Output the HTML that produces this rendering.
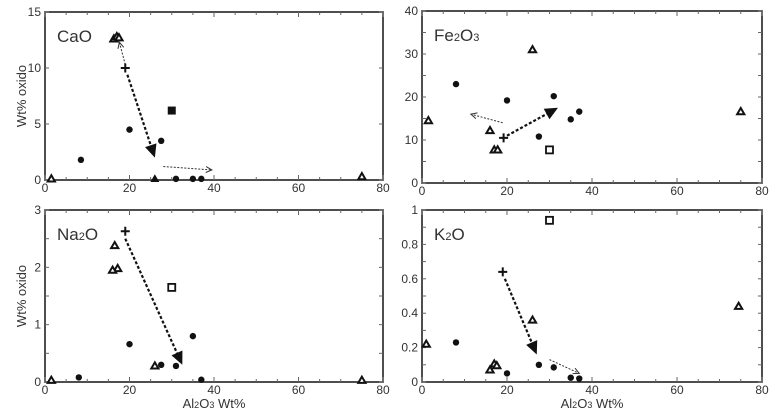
<!DOCTYPE html>
<html><head><meta charset="utf-8"><style>
body{margin:0;background:#fff;width:777px;height:413px;overflow:hidden;font-family:"Liberation Sans",sans-serif}
svg text{font-family:"Liberation Sans",sans-serif;fill:#333}
</style></head><body>
<svg id="c" width="777" height="413"></svg>
<script>
const xTicks=[0,20,40,60,80];
// CaO
const caoCircles=[[8.5,1.8],[20,4.5],[27.5,3.5],[31,0.1],[35,0.1],[37,0.1]];
const caoOpenTri=[[1.5,0.1],[16.3,12.6],[17,12.8],[17.5,12.7],[75,0.3]];
const caoFilledTri=[[26,0.1]];
const caoSquare=[[30,6.2]];
const caoPlus=[[19,10]];
// Fe2O3
const feCircles=[[8,23],[20,19.2],[31,20.2],[27.5,10.8],[35,14.8],[37,16.6]];
const feOpenTri=[[1.5,14.5],[16,12.2],[17,7.7],[17.8,7.7],[26,31],[75,16.6]];
const feSquare=[[30,7.7]];
const fePlus=[[19.2,10.5]];
// Na2O
const naCircles=[[8,0.08],[20,0.66],[27.5,0.3],[31,0.28],[35,0.8],[37,0.04]];
const naOpenTri=[[1.5,0.03],[16.5,2.38],[17.2,1.98],[16,1.95],[26,0.28],[75,0.03]];
const naSquare=[[30,1.65]];
const naPlus=[[19,2.63]];
// K2O
const kCircles=[[8,0.23],[20,0.05],[27.5,0.1],[31,0.085],[35,0.025],[37,0.02]];
const kOpenTri=[[1,0.22],[16,0.07],[17,0.105],[17.6,0.095],[26,0.36],[74.5,0.44]];
const kSquare=[[30,0.94]];
const kPlus=[[19,0.64]];

const svg=document.getElementById('c');
const NS='http://www.w3.org/2000/svg';
function mk(tag,attrs,parent){const e=document.createElementNS(NS,tag);for(const k in attrs)e.setAttribute(k,attrs[k]);(parent||svg).appendChild(e);return e;}

const panels=[
 {name:'cao',L:45,R:383,T:12,B:180,ymax:15,yt:[0,5,10,15],ymin:5,ylab:true,xlab:false,title:['CaO'],
  circ:caoCircles,otri:caoOpenTri,ftri:caoFilledTri,fsq:caoSquare,osq:[],plus:caoPlus,
  heavy:[[19.5,9.4],[26,2]],dots:[[[19,10.3],[17.6,12.3]],[[28,1.2],[39.5,0.9]]]},
 {name:'fe2o3',L:422,R:762,T:11,B:183,ymax:40,yt:[0,10,20,30,40],ymin:5,ylab:false,xlab:false,title:['Fe','2','O','3'],
  circ:feCircles,otri:feOpenTri,ftri:[],fsq:[],osq:feSquare,plus:fePlus,
  heavy:[[20,11],[32,17.5]],dots:[[[19,14],[11.5,16]]]},
 {name:'na2o',L:45,R:383,T:210,B:382,ymax:3,yt:[0,1,2,3],ymin:0.5,ylab:true,xlab:true,title:['Na','2','O'],
  circ:naCircles,otri:naOpenTri,ftri:[],fsq:[],osq:naSquare,plus:naPlus,
  heavy:[[19,2.5],[32.5,0.3]],dots:[]},
 {name:'k2o',L:422,R:762,T:210,B:382,ymax:1,yt:[0,0.2,0.4,0.6,0.8,1],ymin:0.1,ylab:false,xlab:true,title:['K','2','O'],
  circ:kCircles,otri:kOpenTri,ftri:[],fsq:[],osq:kSquare,plus:kPlus,
  heavy:[[19.5,0.6],[27,0.16]],dots:[[[30,0.13],[37,0.05]]]}
];

panels.forEach(p=>{
 const g=mk('g',{});
 
 
 const sx=v=>p.L+v/80*(p.R-p.L);
 const sy=v=>p.B-v/p.ymax*(p.B-p.T);
 const fr=mk('rect',{x:p.L,y:p.T,width:p.R-p.L,height:p.B-p.T,fill:'none',stroke:'#222','stroke-width':1.6},g);
 
 
 for(let v=0;v<=80;v+=5){const x=sx(v),len=(v%20==0)?5:3;
  mk('line',{x1:x,x2:x,y1:p.B,y2:p.B-len,stroke:'#666'},g);
  mk('line',{x1:x,x2:x,y1:p.T,y2:p.T+len,stroke:'#666'},g);}
 for(let v=0;v<=p.ymax+1e-9;v+=p.ymin){const y=sy(v);
  mk('line',{x1:p.L,x2:p.L+4,y1:y,y2:y,stroke:'#666'},g);
  mk('line',{x1:p.R,x2:p.R-4,y1:y,y2:y,stroke:'#666'},g);}
 xTicks.forEach(v=>{const t=mk('text',{x:sx(v),y:p.B+12,'font-size':12,'text-anchor':'middle'},g);t.textContent=v;
  
  });
 p.yt.forEach(v=>{const t=mk('text',{x:p.L-4,y:sy(v)+4,'font-size':12,'text-anchor':'end'},g);t.textContent=v;
  
  });
 if(p.ylab){const cy=(p.T+p.B)/2;const t=mk('text',{x:26,y:cy,'font-size':13,'text-anchor':'middle',transform:`rotate(-90 26 ${cy})`},g);t.textContent='Wt% oxido';
  
  }
 if(p.xlab){const t=mk('text',{x:(p.L+p.R)/2,y:p.B+26,'font-size':13,'text-anchor':'middle'},g);
  t.innerHTML='Al<tspan font-size="9">2</tspan>O<tspan font-size="9">3</tspan> Wt%';
  
  }
 const tt=mk('text',{x:p.L+12,y:p.T+30,'font-size':17,fill:'#222'},g);
 tt.innerHTML=p.title.map((s,i)=>i%2?`<tspan font-size="11">${s}</tspan>`:s).join('');
 
 
 const [a,b]=p.heavy;const x1=sx(a[0]),y1=sy(a[1]),x2=sx(b[0]),y2=sy(b[1]);
 const ang=Math.atan2(y2-y1,x2-x1);
 const hl=mk('line',{x1,y1,x2:x2-9*Math.cos(ang),y2:y2-9*Math.sin(ang),stroke:'#111','stroke-width':2.2,'stroke-dasharray':'3,2'},g);
 
 
 const hp=[[x2,y2],[x2-13*Math.cos(ang)+6*Math.sin(ang),y2-13*Math.sin(ang)-6*Math.cos(ang)],[x2-13*Math.cos(ang)-6*Math.sin(ang),y2-13*Math.sin(ang)+6*Math.cos(ang)]];
 mk('polygon',{points:hp.map(q=>q.join(',')).join(' '),fill:'#111'},g);
 p.dots.forEach(d=>{const X1=sx(d[0][0]),Y1=sy(d[0][1]),X2=sx(d[1][0]),Y2=sy(d[1][1]);const an=Math.atan2(Y2-Y1,X2-X1);
  const dl=mk('line',{x1:X1,y1:Y1,x2:X2,y2:Y2,stroke:'#333','stroke-width':1,'stroke-dasharray':'2,1.5'},g);
  
  
  mk('polyline',{points:`${X2-6*Math.cos(an)+3*Math.sin(an)},${Y2-6*Math.sin(an)-3*Math.cos(an)} ${X2},${Y2} ${X2-6*Math.cos(an)-3*Math.sin(an)},${Y2-6*Math.sin(an)+3*Math.cos(an)}`,fill:'none',stroke:'#333'},g);});
 p.circ.forEach(d=>{const e=mk('circle',{cx:sx(d[0]),cy:sy(d[1]),r:3.2,fill:'#111'},g);
  
  });
 const tri=(d,fill)=>{const x=sx(d[0]),y=sy(d[1]);const e=mk('polygon',{points:`${x},${y-3.6} ${x-3.6},${y+2.6} ${x+3.6},${y+2.6}`,fill:fill,stroke:'#111','stroke-width':fill=='#fff'?2:1},g);
  
  };
 p.otri.forEach(d=>tri(d,'#fff'));
 p.ftri.forEach(d=>tri(d,'#111'));
 p.fsq.forEach(d=>{const e=mk('rect',{x:sx(d[0])-4,y:sy(d[1])-4,width:8,height:8,fill:'#111'},g);
  
  });
 p.osq.forEach(d=>{const e=mk('rect',{x:sx(d[0])-3.5,y:sy(d[1])-3.5,width:7,height:7,fill:'#fff',stroke:'#111','stroke-width':1.8},g);
  
  });
 p.plus.forEach(d=>{const x=sx(d[0]),y=sy(d[1]);const e=mk('path',{d:`M${x-4.5},${y}H${x+4.5}M${x},${y-4.5}V${y+4.5}`,stroke:'#111','stroke-width':2},g);
  
  });
});
</script>
</body></html>
